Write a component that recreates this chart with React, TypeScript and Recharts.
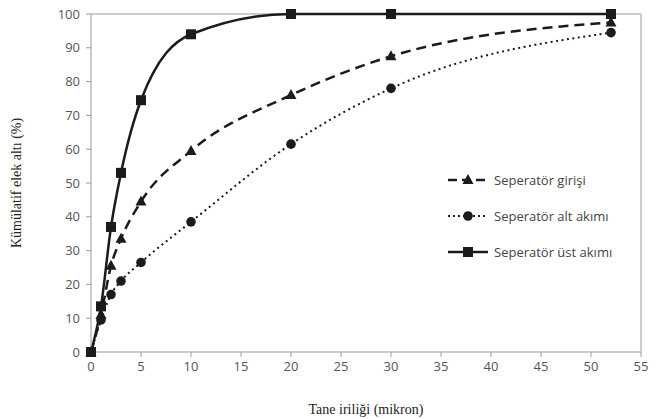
import { LineChart, Line, XAxis, YAxis, ReferenceLine } from "recharts";

const sizes = [0, 1, 2, 3, 5, 10, 20, 30, 52];
const giris = [0, 11, 25.5, 33.5, 44.5, 59.5, 76, 87.5, 97.5];
const altAkimi = [0, 9.5, 17, 21, 26.5, 38.5, 61.5, 78, 94.5];
const ustAkimi = [0, 13.5, 37, 53, 74.5, 94, 100, 100, 100];
const xTicks = [0, 5, 10, 15, 20, 25, 30, 35, 40, 45, 50, 55];
const yTicks = [0, 10, 20, 30, 40, 50, 60, 70, 80, 90, 100];

const data = sizes.map((x, i) => ({ x, giris: giris[i], alt: altAkimi[i], ust: ustAkimi[i] }));

const ink = "#1b1b1b";
const axisGray = "#9a9a9a";

const Triangle = (p: any) => {
  const { cx, cy } = p;
  if (cx == null || cy == null) return null;
  return <path d={`M${cx},${cy - 6}L${cx + 5.5},${cy + 4}L${cx - 5.5},${cy + 4}Z`} fill={ink} />;
};
const Circle = (p: any) => {
  const { cx, cy } = p;
  if (cx == null || cy == null) return null;
  return <circle cx={cx} cy={cy} r={4.8} fill={ink} />;
};
const Square = (p: any) => {
  const { cx, cy } = p;
  if (cx == null || cy == null) return null;
  return <rect x={cx - 5} y={cy - 5} width={10} height={10} fill={ink} />;
};

const legendItems = [
  { label: "Seperatör girişi", dash: "9 5", marker: "tri" },
  { label: "Seperatör alt akımı", dash: "2 3", marker: "circle" },
  { label: "Seperatör üst akımı", dash: "", marker: "square" },
];

const LegendBox = () => (
  <div style={{ position: "absolute", left: 446, top: 170, display: "flex", flexDirection: "column", gap: 16 }}>
    {legendItems.map((it) => (
      <div key={it.label} style={{ display: "flex", alignItems: "center", height: 20 }}>
        <svg width={44} height={14}>
          <line x1={2} y1={7} x2={42} y2={7} stroke={ink} strokeWidth={it.marker === "circle" ? 2 : 2.5} strokeDasharray={it.dash || undefined} />
          {it.marker === "tri" && <path d="M22,1L27.5,11L16.5,11Z" fill={ink} />}
          {it.marker === "circle" && <circle cx={22} cy={7} r={4.8} fill={ink} />}
          {it.marker === "square" && <rect x={17} y={2} width={10} height={10} fill={ink} />}
        </svg>
        <span style={{ marginLeft: 4, fontFamily: "Open Sans", fontSize: 13, color: "#444" }}>{it.label}</span>
      </div>
    ))}
  </div>
);

export default function App() {
  return (
    <div style={{ position: "absolute", left: 0, top: 0, width: 662, height: 419, background: "#fff" }}>
      <LineChart width={662} height={419} data={data} margin={{ top: 14, right: 21, bottom: 0, left: 0 }}>
        <XAxis
          dataKey="x"
          type="number"
          domain={[0, 55]}
          ticks={xTicks}
          interval={0}
          height={67}
          stroke={axisGray}
          tickSize={5}
          tickMargin={5}
          tick={{ fill: "#555", fontFamily: "Open Sans", fontSize: 13 }}
          label={{ value: "Tane iriliği (mikron)", position: "insideBottom", offset: 5, fill: "#222", fontFamily: "Liberation Serif", fontSize: 14 }}
        />
        <YAxis
          type="number"
          domain={[0, 100]}
          ticks={yTicks}
          interval={0}
          width={91}
          stroke={axisGray}
          tickSize={5}
          tickMargin={6}
          tick={{ fill: "#555", fontFamily: "Open Sans", fontSize: 13 }}
          label={{ value: "Kümülatif elek altı (%)", angle: -90, position: "insideLeft", offset: 16, fill: "#222", fontFamily: "Liberation Serif", fontSize: 14, style: { textAnchor: "middle" } }}
        />
        <ReferenceLine y={100} stroke={axisGray} strokeWidth={1} />
        <ReferenceLine x={55} stroke={axisGray} strokeWidth={1} />
        <Line type="monotone" dataKey="giris" stroke={ink} strokeWidth={2.5} strokeDasharray="10 6" dot={<Triangle />} isAnimationActive={false} />
        <Line type="monotone" dataKey="alt" stroke={ink} strokeWidth={2} strokeDasharray="2 3.5" dot={<Circle />} isAnimationActive={false} />
        <Line type="monotone" dataKey="ust" stroke={ink} strokeWidth={2.5} dot={<Square />} isAnimationActive={false} />
      </LineChart>
      <LegendBox />
    </div>
  );
}
